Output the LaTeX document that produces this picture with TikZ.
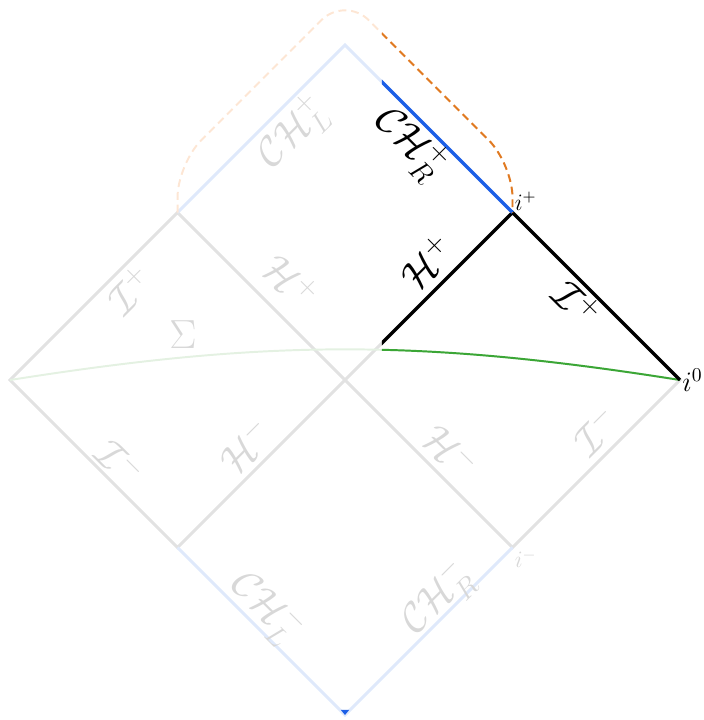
\documentclass[tikz,border=0pt]{standalone}
\usepackage{amsmath,amssymb}
\usetikzlibrary{calc}

\definecolor{fadegray}{HTML}{E2E2E2}
\definecolor{fadeblue}{HTML}{DFE9FB}
\definecolor{fadetext}{HTML}{D8D8D8}
\definecolor{fadegreen}{HTML}{E4F1E2}
\definecolor{fadeorange}{HTML}{FDE6D4}
\definecolor{chblue}{HTML}{1C5FE6}
\definecolor{extorange}{HTML}{E07A22}
\definecolor{slicegreen}{HTML}{3BA636}

\begin{document}
\begin{tikzpicture}[x=3cm, y=3cm,
  edge/.style   = {line width=1.5pt},
  faded/.style  = {edge, draw=fadegray},
  fadedch/.style= {edge, draw=fadeblue},
  bnd/.style    = {edge, draw=black, line width=1.7pt},
  chline/.style = {edge, draw=chblue, line width=1.7pt},
  slice/.style  = {line width=1pt},
  ext/.style    = {line width=1pt, dash pattern=on 4pt off 2.5pt, rounded corners=0.6cm},
  lab/.style    = {font=\huge, inner sep=1pt},
  flab/.style   = {lab, text=fadetext},
  pt/.style     = {inner sep=1pt}]

\useasboundingbox (-2.060,-2.030) rectangle (2.143,2.269);

% corners of the extended diagram
\coordinate (T)  at (0,2);
\coordinate (UL) at (-1,1);
\coordinate (UR) at (1,1);
\coordinate (L)  at (-2,0);
\coordinate (C)  at (0,0);
\coordinate (R)  at (2,0);
\coordinate (DL) at (-1,-1);
\coordinate (DR) at (1,-1);
\coordinate (B)  at (0,-2);

% corners of the extension region beyond the Cauchy horizon
\coordinate (eL) at ($(UL)+(0,0.29)$);
\coordinate (eT) at ($(T)+(0,0.29)$);
\coordinate (eR) at ($(UR)+(0,0.29)$);

% faded full diagram
\draw[faded] (L) -- (UL) -- (C) -- (DL) -- cycle;
\draw[faded] (C) -- (UR) -- (R) -- (DR) -- cycle;
\draw[fadedch] (UL) -- (T) -- (UR);
\draw[fadedch] (DL) -- (B) -- (DR);
\draw[slice, fadegreen] (L) to[bend left=9] (R);
\draw[ext, fadeorange] (UL) -- (eL) -- (eT) -- (eR) -- (UR);
\fill[chblue] ($(B)+(-0.025,0.03)$) -- (B) -- ($(B)+(0.025,0.03)$) -- cycle;

% highlighted exterior region, right of the cut
\begin{scope}
  \clip (0.22,-2.1) rectangle (2.2,2.3);
  \draw[slice, slicegreen] (L) to[bend left=9] (R);
  \draw[bnd] (C) -- (UR) -- (R);
  \draw[chline] (T) -- (UR);
  \draw[ext, extorange] (UL) -- (eL) -- (eT) -- (eR) -- (UR);
\end{scope}

% labels
\node[lab, rotate=-45] (chR) at (0.388,1.415) {$\mathcal{CH}^+_R$};
\node[lab, rotate=45]  (hp)  at (0.49,0.70)   {$\mathcal{H}^+$};
\node[lab, rotate=-45] (ip)  at (1.385,0.46)  {$\mathcal{I}^+$};
\node[pt, anchor=south west, font=\large] (iplus) at (UR) {$i^+$};
\node[pt, anchor=west, font=\Large] (izero) at (R) {$i^0$};

\foreach \p/\a/\t [count=\k] in {
    {-0.31,1.475}/45/{$\mathcal{CH}^+_L$},
    {-1.284,0.537}/45/{$\mathcal{I}^+$},
    {-0.322,0.591}/-45/{$\mathcal{H}^+$},
    {-0.967,0.269}/0/{$\Sigma$},
    {-1.343,-0.49}/-45/{$\mathcal{I}^-$},
    {-0.591,-0.394}/45/{$\mathcal{H}^-$},
    {0.633,-0.424}/-45/{$\mathcal{H}^-$},
    {1.499,-0.304}/45/{$\mathcal{I}^-$},
    {-0.47,-1.36}/-45/{$\mathcal{CH}^-_L$},
    {0.55,-1.307}/45/{$\mathcal{CH}^-_R$}}
  \node[flab, rotate=\a] (fl\k) at (\p) {\t};
\node[pt, anchor=north west, text=fadetext, font=\large] (iminus) at (DR) {$i^-$};

\end{tikzpicture}
\end{document}
